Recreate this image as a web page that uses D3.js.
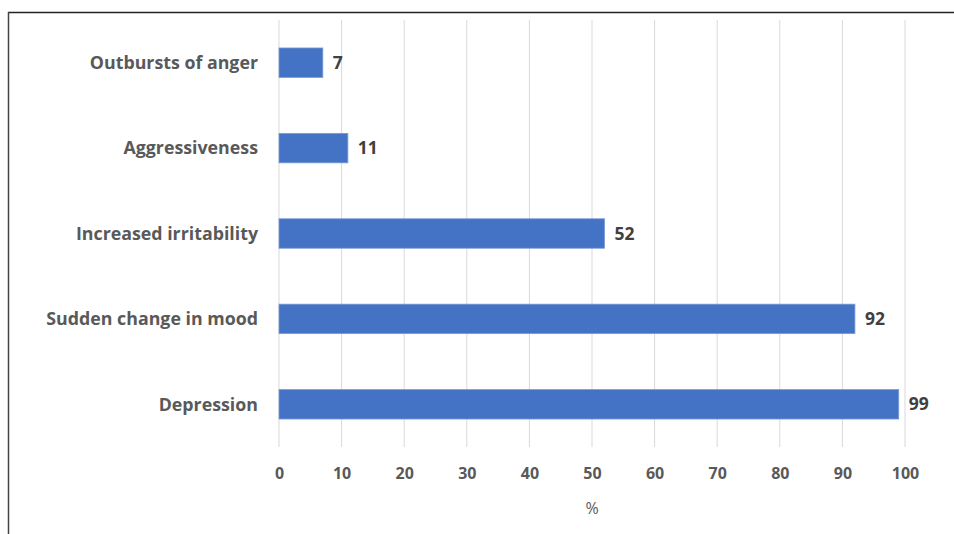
<!DOCTYPE html>
<html>
<head>
<meta charset="utf-8">
<script src="https://cdn.jsdelivr.net/npm/d3@7"></script>
<style>
  body { margin: 0; background: #fff; }
  text { font-family: "Open Sans", Lato, sans-serif; font-weight: bold; }
</style>
</head>
<body>
<svg id="chart" width="954" height="534"></svg>
<script>
"use strict";

// data
var categories = ["Outbursts of anger", "Aggressiveness", "Increased irritability",
                  "Sudden change in mood", "Depression"];
var values = [7, 11, 52, 92, 99];
var xTicks = [0, 10, 20, 30, 40, 50, 60, 70, 80, 90, 100];
var xTitle = "%";

var svg = d3.select("#chart");
var margin = { top: 20, left: 279, right: 49, bottom: 87 };
var width = +svg.attr("width");
var height = +svg.attr("height");

// frame lines (top and left edge of the cropped screenshot)
svg.append("line")
    .attr("x1", 8).attr("y1", 12.5).attr("x2", width).attr("y2", 12.5)
    .attr("stroke", "#222").attr("stroke-width", 1.5);
svg.append("line")
    .attr("x1", 8.5).attr("y1", 12).attr("x2", 8.5).attr("y2", height)
    .attr("stroke", "#444").attr("stroke-width", 1.5);

var x = d3.scaleLinear()
    .domain([0, 100])
    .range([margin.left, width - margin.right]);

var y = d3.scaleBand()
    .domain(categories)
    .range([margin.top, height - margin.bottom])
    .paddingInner(0.655)
    .paddingOuter(0.3275);

var g = svg.append("g");

// vertical gridlines
g.selectAll("line.grid")
    .data(xTicks)
    .enter().append("line")
    .attr("class", "grid")
    .attr("x1", function (d) { return x(d); })
    .attr("x2", function (d) { return x(d); })
    .attr("y1", margin.top)
    .attr("y2", height - margin.bottom)
    .attr("stroke", "#d9d9d9")
    .attr("stroke-width", 1);

// x axis tick labels
var xAxis = d3.axisBottom(x)
    .tickValues(xTicks)
    .tickSize(0)
    .tickPadding(0);

var ax = g.append("g")
    .attr("transform", "translate(0," + (height - margin.bottom + 21) + ")")
    .call(xAxis);
ax.select(".domain").remove();
ax.selectAll("text")
    .attr("font-family", null)
    .attr("dy", "0.71em")
    .style("font-size", "16px")
    .style("fill", "#595959");

// axis title
g.append("text")
    .attr("x", x(50))
    .attr("y", height - margin.bottom + 67)
    .attr("text-anchor", "middle")
    .style("font-size", "16px")
    .style("fill", "#595959")
    .style("font-weight", "normal")
    .text(xTitle);

// category labels
g.selectAll("text.cat")
    .data(categories)
    .enter().append("text")
    .attr("class", "cat")
    .attr("x", margin.left - 21)
    .attr("y", function (d) { return y(d) + y.bandwidth() / 2; })
    .attr("dy", "0.35em")
    .attr("text-anchor", "end")
    .style("font-size", "17.8px")
    .style("fill", "#595959")
    .text(function (d) { return d; });

// bars
g.selectAll("rect.bar")
    .data(values)
    .enter().append("rect")
    .attr("class", "bar")
    .attr("x", x(0))
    .attr("y", function (d, i) { return y(categories[i]); })
    .attr("width", function (d) { return x(d) - x(0); })
    .attr("height", y.bandwidth())
    .attr("fill", "#4472c4")
    .attr("stroke", "#7a9bd6")
    .attr("stroke-width", 0.8);

// value labels
g.selectAll("text.val")
    .data(values)
    .enter().append("text")
    .attr("class", "val")
    .attr("x", function (d) { return x(d) + 10; })
    .attr("y", function (d, i) { return y(categories[i]) + y.bandwidth() / 2; })
    .attr("dy", "0.35em")
    .style("font-size", "17.5px")
    .style("fill", "#404040")
    .text(function (d) { return d; });
</script>
</body>
</html>
